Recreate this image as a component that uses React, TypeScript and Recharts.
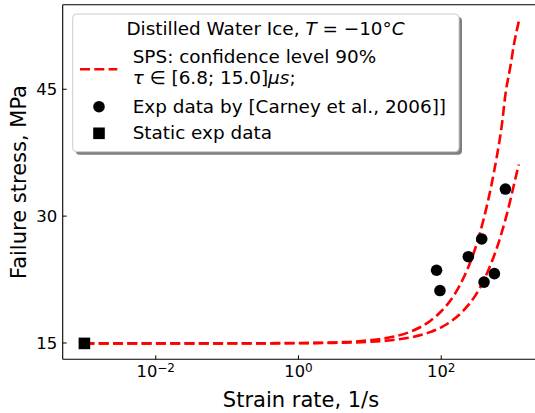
import React from "react";
import {
  ComposedChart,
  Line,
  Scatter,
  XAxis,
  YAxis,
  ReferenceLine,
} from "recharts";

// SPS curves, confidence level 90%
const curveRate = [0.001, 0.01, 0.1, 1, 3, 10, 20, 40, 70, 100, 150, 200, 300, 400, 500, 600, 700, 800, 931, 1050, 1220];
const upperStress = [14.95, 14.95, 14.96, 15.0, 15.06, 15.33, 15.7, 16.45, 17.6, 18.75, 20.6, 22.5, 26.2, 29.9, 33.5, 37.0, 40.5, 44.6, 47.7, 50.4, 53.0];
const lowerStress = [14.95, 14.95, 14.95, 14.97, 15.01, 15.14, 15.33, 15.71, 16.28, 16.85, 17.8, 18.75, 20.6, 22.5, 24.4, 26.2, 28.0, 29.7, 31.9, 33.8, 36.1];

// Carney et al., 2006
const expRate = [86, 96, 240, 369, 398, 556, 793];
const expStress = [23.6, 21.2, 25.2, 27.3, 22.2, 23.2, 33.2];

const staticRate = [0.001];
const staticStress = [14.95];

const xTicks = [0.01, 1, 100];
const xTickExp = ["\u22122", "0", "2"];
const yTicks = [15, 30, 45];

const zip = (xs: number[], ys: number[]) => xs.map((x, i) => ({ x, y: ys[i] }));

const upper = zip(curveRate, upperStress);
const lower = zip(curveRate, lowerStress);
const exp = zip(expRate, expStress);
const stat = zip(staticRate, staticStress);

const FONT = "'DejaVu Sans', sans-serif";
const LEFT = 62.7;
const TOP = 4.7;
const BOTTOM = 359.3;
const RED = "#ff0000";

const XTick = (props: any) => {
  const { x, payload } = props;
  const i = xTicks.indexOf(payload.value);
  return (
    <g>
      <line x1={x} x2={x} y1={BOTTOM} y2={BOTTOM - 4} stroke="#000" strokeWidth={1} />
      <text x={x} y={376.5} textAnchor="middle" fontFamily={FONT} fontSize={16.3} fill="#000">
        10
        <tspan dy={-5} fontSize={12}>{xTickExp[i]}</tspan>
      </text>
    </g>
  );
};

const YTick = (props: any) => {
  const { y, payload } = props;
  return (
    <g>
      <line x1={LEFT} x2={LEFT + 4} y1={y} y2={y} stroke="#000" strokeWidth={1} />
      <text x={LEFT - 5.5} y={y + 6.2} textAnchor="end" fontFamily={FONT} fontSize={16.5} fill="#000">
        {payload.value}
      </text>
    </g>
  );
};

const Dot = (p: any) => <circle cx={p.cx} cy={p.cy} r={5.8} fill="#000" />;
const Square = (p: any) => <rect x={p.cx - 5.8} y={p.cy - 5.8} width={11.6} height={11.6} fill="#000" />;

export default function App() {
  return (
    <div
      style={{
        position: "absolute",
        left: 0,
        top: 0,
        width: 535,
        height: 413,
        overflow: "hidden",
        background: "#fff",
      }}
    >
      <ComposedChart width={548} height={413} margin={{ top: TOP, right: 8, bottom: 0, left: 0 }}>
        <XAxis
          dataKey="x"
          type="number"
          scale="log"
          domain={[Math.pow(10, -3.304), Math.pow(10, 3.384)]}
          allowDataOverflow
          ticks={xTicks}
          tick={<XTick />}
          tickLine={false}
          height={413 - BOTTOM}
          axisLine={{ stroke: "#000", strokeWidth: 1.1 }}
        />
        <YAxis
          dataKey="y"
          type="number"
          domain={[13.07, 55.0]}
          allowDataOverflow
          ticks={yTicks}
          tick={<YTick />}
          tickLine={false}
          width={LEFT}
          axisLine={{ stroke: "#000", strokeWidth: 1.1 }}
        />
        <ReferenceLine y={55.0} stroke="#000" strokeWidth={1.1} ifOverflow="visible" />
        <Line
          data={upper}
          dataKey="y"
          type="monotone"
          stroke={RED}
          strokeWidth={2.6}
          strokeDasharray="10 4.3"
          dot={false}
          isAnimationActive={false}
        />
        <Line
          data={lower}
          dataKey="y"
          type="monotone"
          stroke={RED}
          strokeWidth={2.6}
          strokeDasharray="10 4.3"
          dot={false}
          isAnimationActive={false}
        />
        <Scatter data={exp} dataKey="y" shape={<Dot />} isAnimationActive={false} />
        <Scatter data={stat} dataKey="y" shape={<Square />} isAnimationActive={false} />
      </ComposedChart>

      <svg width={535} height={413} style={{ position: "absolute", left: 0, top: 0 }}>
        {/* axis titles */}
        <text x={301} y={407} textAnchor="middle" fontFamily={FONT} fontSize={21} fill="#000">
          Strain rate, 1/s
        </text>
        <text
          transform="translate(25.5 182) rotate(-90)"
          textAnchor="middle"
          fontFamily={FONT}
          fontSize={21}
          fill="#000"
        >
          Failure stress, MPa
        </text>

        {/* legend */}
        <rect x={75.7} y={17} width={386.3} height={137.7} rx={4} fill="#000" opacity={0.5} />
        <rect x={72.7} y={14} width={386.3} height={137.7} rx={4} fill="#fff" stroke="#cccccc" strokeWidth={1} />
        <g fontFamily={FONT} fontSize={18.4} fill="#000">
          <text x={265.5} y={35} textAnchor="middle">
            Distilled Water Ice, <tspan fontStyle="italic">T</tspan> = {"\u2212"}10°<tspan fontStyle="italic">C</tspan>
          </text>
          <line x1={80} x2={117.3} y1={69.3} y2={69.3} stroke={RED} strokeWidth={2.6} strokeDasharray="10 4.3" />
          <text x={132.7} y={63.3}>SPS: confidence level 90%</text>
          <text x={132.7} y={84}>
            <tspan fontStyle="italic">τ</tspan> ∈ [6.8; 15.0]<tspan fontStyle="italic">μs</tspan>;
          </text>
          <circle cx={99} cy={106.7} r={5.8} fill="#000" />
          <text x={132.7} y={112.6}>Exp data by [Carney et al., 2006]]</text>
          <rect x={93.2} y={127.5} width={11.6} height={11.6} fill="#000" />
          <text x={132.7} y={139.2}>Static exp data</text>
        </g>
      </svg>
    </div>
  );
}
